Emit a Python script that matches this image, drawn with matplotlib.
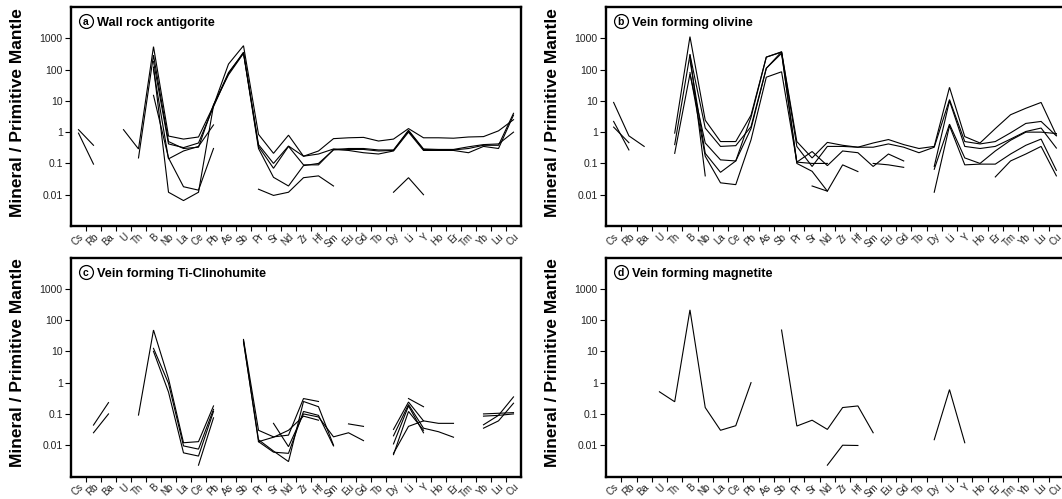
# -*- coding: utf-8 -*-
"""
Spurenelementmuster (normiert auf primitiven Mantel) fuer Wandgestein und Adermineralien
"""
import numpy as np
import matplotlib
matplotlib.use('Agg')
from matplotlib import pyplot
from matplotlib.ticker import NullLocator

pyplot.rcParams['font.family'] = ['Liberation Sans', 'DejaVu Sans']

elements = ['Cs', 'Rb', 'Ba', 'U', 'Th', 'B', 'Nb', 'La', 'Ce', 'Pb', 'As', 'Sb', 'Pr', 'Sr', 'Nd',
            'Zr', 'Hf', 'Sm', 'Eu', 'Gd', 'Tb', 'Dy', 'Li', 'Y', 'Ho', 'Er', 'Tm', 'Yb', 'Lu', 'Cu']

# (a) Wall rock antigorite - one dict per analysis, missing elements are gaps
antigorite = [
   {'Cs': 1.2, 'Rb': 0.38},
   {'Cs': 0.93, 'Rb': 0.095},
   {'U': 1.2, 'Th': 0.29, 'B': 540, 'Nb': 0.75, 'La': 0.6, 'Ce': 0.7, 'Pb': 7.0, 'As': 150, 'Sb': 580,
    'Pr': 0.85, 'Sr': 0.21, 'Nd': 0.8, 'Zr': 0.17, 'Hf': 0.25, 'Sm': 0.62, 'Eu': 0.66, 'Gd': 0.68,
    'Tb': 0.52, 'Dy': 0.6, 'Li': 1.3, 'Y': 0.66, 'Ho': 0.66, 'Er': 0.64, 'Tm': 0.7, 'Yb': 0.72,
    'Lu': 1.1, 'Cu': 2.5},
   {'Th': 0.15, 'B': 290, 'Nb': 0.5, 'La': 0.3, 'Ce': 0.33, 'Pb': 7.5, 'As': 68, 'Sb': 330,
    'Pr': 0.4, 'Sr': 0.1, 'Nd': 0.36, 'Zr': 0.17, 'Hf': 0.2, 'Sm': 0.29, 'Eu': 0.28, 'Gd': 0.28,
    'Tb': 0.25, 'Dy': 0.26, 'Li': 1.1, 'Y': 0.28, 'Ho': 0.27, 'Er': 0.27, 'Tm': 0.3, 'Yb': 0.38,
    'Lu': 0.38, 'Cu': 4.0},
   {'B': 180, 'Nb': 0.42, 'La': 0.32, 'Ce': 0.45, 'Pb': 6.5, 'As': 75, 'Sb': 360,
    'Pr': 0.35, 'Sr': 0.07, 'Nd': 0.35, 'Zr': 0.09, 'Hf': 0.09, 'Sm': 0.28, 'Eu': 0.26, 'Gd': 0.22,
    'Tb': 0.2, 'Dy': 0.25, 'Li': 1.0, 'Y': 0.26, 'Ho': 0.26, 'Er': 0.26, 'Tm': 0.22, 'Yb': 0.35,
    'Lu': 0.3, 'Cu': 3.5},
   {'B': 120, 'Nb': 0.012, 'La': 0.0065, 'Ce': 0.012, 'Pb': 7.0, 'As': 80, 'Sb': 340,
    'Pr': 0.3, 'Sr': 0.036, 'Nd': 0.019, 'Zr': 0.085, 'Hf': 0.1, 'Sm': 0.27, 'Eu': 0.3, 'Gd': 0.3,
    'Tb': 0.27, 'Dy': 0.27, 'Li': 1.15, 'Y': 0.29, 'Ho': 0.28, 'Er': 0.28, 'Tm': 0.34, 'Yb': 0.4,
    'Lu': 0.42, 'Cu': 1.0},
   {'B': 100, 'Nb': 0.14, 'La': 0.25, 'Ce': 0.35, 'Pb': 1.7},
   {'B': 15, 'Nb': 0.15, 'La': 0.018, 'Ce': 0.014, 'Pb': 0.3},
   {'Pr': 0.015, 'Sr': 0.0095, 'Nd': 0.012, 'Zr': 0.035, 'Hf': 0.04, 'Sm': 0.019},
   {'Dy': 0.012, 'Li': 0.035, 'Y': 0.01},
]

# (b) Vein forming olivine
olivine = [
   {'Cs': 8.9, 'Rb': 0.76, 'Ba': 0.35},
   {'Cs': 2.2, 'Rb': 0.27},
   {'Cs': 1.45, 'Rb': 0.46},
   {'Th': 0.93, 'B': 1130, 'Nb': 2.4, 'La': 0.5, 'Ce': 0.5, 'Pb': 3.5, 'As': 250, 'Sb': 370,
    'Pr': 0.5, 'Sr': 0.15, 'Nd': 0.47, 'Zr': 0.38, 'Hf': 0.33, 'Sm': 0.45, 'Eu': 0.58, 'Gd': 0.4,
    'Tb': 0.3, 'Dy': 0.35, 'Li': 27, 'Y': 0.72, 'Ho': 0.45, 'Er': 1.3, 'Tm': 3.6, 'Yb': 5.8,
    'Lu': 8.9, 'Cu': 0.8},
   {'Th': 0.4, 'B': 300, 'Nb': 1.35, 'La': 0.35, 'Ce': 0.37, 'Pb': 1.5, 'As': 110, 'Sb': 370,
    'Pr': 0.35, 'Sr': 0.08, 'Nd': 0.35, 'Zr': 0.35, 'Hf': 0.33, 'Sm': 0.33, 'Eu': 0.42, 'Gd': 0.33,
    'Tb': 0.22, 'Dy': 0.33, 'Li': 11, 'Y': 0.5, 'Ho': 0.42, 'Er': 0.5, 'Tm': 0.95, 'Yb': 1.9,
    'Lu': 2.2, 'Cu': 0.76},
   {'Th': 0.21, 'B': 72, 'Nb': 0.45, 'La': 0.13, 'Ce': 0.12, 'Pb': 1.3, 'As': 110, 'Sb': 330,
    'Pr': 0.11, 'Sr': 0.24, 'Nd': 0.085, 'Zr': 0.25, 'Hf': 0.22, 'Sm': 0.08, 'Eu': 0.2, 'Gd': 0.12},
   {'B': 200, 'Nb': 0.21, 'La': 0.052, 'Ce': 0.12, 'Pb': 3.0, 'As': 250, 'Sb': 360,
    'Pr': 0.1, 'Sr': 0.056, 'Nd': 0.013, 'Zr': 0.09, 'Hf': 0.055},
   {'B': 80, 'Nb': 0.17, 'La': 0.024, 'Ce': 0.021, 'Pb': 0.57, 'As': 57, 'Sb': 85,
    'Pr': 0.11, 'Sr': 0.1, 'Nd': 0.1},
   {'B': 300, 'Nb': 0.04},
   {'Sr': 0.019, 'Nd': 0.013},
   {'Sm': 0.1, 'Eu': 0.09, 'Gd': 0.075},
   {'Dy': 0.08, 'Li': 10, 'Y': 0.35, 'Ho': 0.3, 'Er': 0.35, 'Tm': 0.6, 'Yb': 1.05, 'Lu': 1.35, 'Cu': 0.31},
   {'Dy': 0.065, 'Li': 1.8, 'Y': 0.15, 'Ho': 0.1, 'Er': 0.25, 'Tm': 0.55, 'Yb': 1.0, 'Lu': 1.0, 'Cu': 0.9},
   {'Dy': 0.012, 'Li': 1.6, 'Y': 0.09, 'Ho': 0.095, 'Er': 0.095, 'Tm': 0.2, 'Yb': 0.38, 'Lu': 0.6, 'Cu': 0.06},
   {'Er': 0.037, 'Tm': 0.12, 'Yb': 0.2, 'Lu': 0.35, 'Cu': 0.04},
]

# (c) Vein forming Ti-clinohumite
clinohumite = [
   {'Rb': 0.044, 'Ba': 0.23},
   {'Rb': 0.025, 'Ba': 0.1},
   {'Th': 0.092, 'B': 48, 'Nb': 1.35, 'La': 0.012, 'Ce': 0.013, 'Pb': 0.18},
   {'B': 12.5, 'Nb': 0.95, 'La': 0.0095, 'Ce': 0.0075, 'Pb': 0.14},
   {'B': 10, 'Nb': 0.5, 'La': 0.0057, 'Ce': 0.0045, 'Pb': 0.12},
   {'Ce': 0.0023, 'Pb': 0.075},
   {'Sb': 24, 'Pr': 0.03, 'Sr': 0.0185, 'Nd': 0.021, 'Zr': 0.31, 'Hf': 0.25},
   {'Sb': 20, 'Pr': 0.015, 'Sr': 0.0065, 'Nd': 0.003, 'Zr': 0.25, 'Hf': 0.17, 'Sm': 0.01},
   {'Sb': 22, 'Pr': 0.013, 'Sr': 0.006, 'Nd': 0.0055, 'Zr': 0.12, 'Hf': 0.09, 'Sm': 0.0095},
   {'Sr': 0.05, 'Nd': 0.009, 'Zr': 0.1, 'Hf': 0.08, 'Sm': 0.0185, 'Eu': 0.025, 'Gd': 0.014},
   {'Pr': 0.013, 'Sr': 0.018, 'Nd': 0.03, 'Zr': 0.085, 'Hf': 0.063},
   {'Eu': 0.048, 'Gd': 0.04},
   {'Dy': 0.032, 'Li': 0.24, 'Y': 0.06, 'Ho': 0.05, 'Er': 0.05},
   {'Dy': 0.02, 'Li': 0.2, 'Y': 0.035, 'Ho': 0.027, 'Er': 0.018},
   {'Dy': 0.011, 'Li': 0.18, 'Y': 0.025},
   {'Dy': 0.0055, 'Li': 0.04, 'Y': 0.06},
   {'Dy': 0.005, 'Li': 0.12, 'Y': 0.03},
   {'Li': 0.31, 'Y': 0.17},
   {'Yb': 0.1, 'Lu': 0.105, 'Cu': 0.11},
   {'Yb': 0.085, 'Lu': 0.09, 'Cu': 0.1},
   {'Yb': 0.045, 'Lu': 0.09, 'Cu': 0.35},
   {'Yb': 0.035, 'Lu': 0.06, 'Cu': 0.22},
]

# (d) Vein forming magnetite
magnetite = [
   {'U': 0.51, 'Th': 0.245, 'B': 212, 'Nb': 0.16, 'La': 0.03, 'Ce': 0.042, 'Pb': 1.0},
   {'Sb': 48, 'Pr': 0.041, 'Sr': 0.063, 'Nd': 0.032, 'Zr': 0.16, 'Hf': 0.18, 'Sm': 0.025},
   {'Nd': 0.0023, 'Zr': 0.01, 'Hf': 0.0098},
   {'Dy': 0.015, 'Li': 0.6, 'Y': 0.012},
]

ytick_values = [0.01, 0.1, 1, 10, 100, 1000]
ytick_labels = ['0.01', '0.1', '1', '10', '100', '1000']


# -------------------------------------------------------------------------------------------------
def Reihe(analyse):
   """Werte einer Analyse in Elementreihenfolge, fehlende Elemente als NaN (Luecke in der Linie)."""
   return np.array([analyse.get(el, np.nan) for el in elements], dtype=float)
#


# -------------------------------------------------------------------------------------------------
def Panel(fig, pos_px, analysen, buchstabe, titel, fig_px=(1062, 499)):
   links, oben, breite, hoehe = pos_px
   fw, fh = fig_px
   ax = fig.add_axes([links/fw, 1.0 - (oben + hoehe)/fh, breite/fw, hoehe/fh])
   #
   x = np.arange(len(elements))
   for analyse in analysen:
      ax.plot(x, Reihe(analyse), color='black', linewidth=0.8, solid_joinstyle='miter')
   #
   ax.set_yscale('log')
   ax.set_ylim(1e-3, 1e4)
   ax.set_xlim(-0.5, len(elements) - 0.5)
   ax.set_yticks(ytick_values)
   ax.set_yticklabels(ytick_labels)
   ax.yaxis.set_minor_locator(NullLocator())
   ax.tick_params(axis='y', which='major', length=4, width=0.8, pad=2, labelsize=7.5,
                  labelcolor='#222222')
   #
   # Elementnamen mittig, Striche an den Grenzen
   ax.set_xticks(x)
   ax.set_xticklabels(elements, rotation=45, ha='right', rotation_mode='anchor')
   ax.set_xticks(x[:-1] + 0.5, minor=True)
   ax.tick_params(axis='x', which='major', length=0, pad=4, labelsize=7, labelcolor='#222222')
   ax.tick_params(axis='x', which='minor', length=3.5, width=0.8)
   #
   for spine in ax.spines.values():
      spine.set_linewidth(1.7)
   #
   ax.set_ylabel('Mineral / Primitive Mantle', fontsize=12.5, fontweight='bold')
   ax.yaxis.set_label_coords((links - 46)/fw, 1.0 - (oben + 105.5)/fh, transform=fig.transFigure)
   #
   # Kreis mit Buchstabe und Titel
   kx, ky = 14.7/breite, 1.0 - 14.2/hoehe
   ax.plot([kx], [ky], marker='o', markersize=10, markerfacecolor='white', markeredgecolor='black',
           markeredgewidth=0.9, transform=ax.transAxes, clip_on=False)
   ax.text(kx, ky, buchstabe, ha='center', va='center_baseline', fontsize=7.5, fontweight='bold',
           transform=ax.transAxes)
   ax.text(26.0/breite, 1.0 - 19.0/hoehe, titel, ha='left', va='baseline', fontsize=9.2,
           fontweight='bold', transform=ax.transAxes)
   return ax
#


fig = pyplot.figure(figsize=(10.62, 4.99), dpi=100)
Panel(fig, (71, 7, 450, 219), antigorite, 'a', 'Wall rock antigorite')
Panel(fig, (606, 7, 458, 219), olivine, 'b', 'Vein forming olivine')
Panel(fig, (71, 257.5, 450, 219), clinohumite, 'c', 'Vein forming Ti-Clinohumite')
Panel(fig, (606, 257.5, 458, 219), magnetite, 'd', 'Vein forming magnetite')

fig.savefig('out.png', dpi=100)
